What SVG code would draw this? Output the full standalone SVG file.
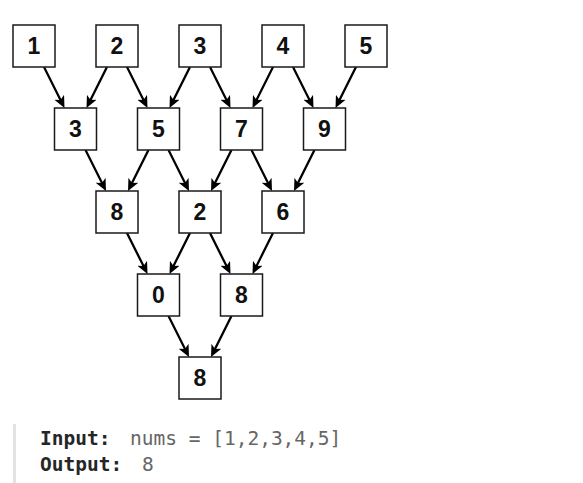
<svg xmlns="http://www.w3.org/2000/svg" width="583" height="483" viewBox="0 0 583 483">
<style>
.box rect{fill:#fff;stroke:#1a1a1a;stroke-width:1.5}
.box text{font-family:"Liberation Sans",Arial,sans-serif;font-weight:bold;font-size:23px;fill:#111;text-anchor:middle}
.edges path{fill:none;stroke:#000;stroke-width:2.3;marker-end:url(#ah)}
.code{font-family:"DejaVu Sans Mono",monospace;font-size:19.5px}
.kw{font-weight:bold;fill:#262626}
.val{fill:#666}
</style>
<defs>
<marker id="ah" markerUnits="userSpaceOnUse" viewBox="0 0 12 11" markerWidth="12" markerHeight="11" refX="7" refY="5.5" orient="auto">
<path d="M0,0 L12,5.5 L0,11 L3,5.5 Z" fill="#000"/>
</marker>
</defs>
<rect width="583" height="483" fill="#fff"/>
<g class="edges">
<path d="M44 67 L62.26 103.53"/><path d="M107 67 L88.74 103.53"/>
<path d="M127 67 L145.26 103.53"/><path d="M190 67 L171.74 103.53"/>
<path d="M210 67 L228.26 103.53"/><path d="M273 67 L254.74 103.53"/>
<path d="M293 67 L311.26 103.53"/><path d="M356 67 L337.74 103.53"/>
<path d="M85.5 150 L103.76 186.53"/><path d="M148.5 150 L130.24 186.53"/>
<path d="M168.5 150 L186.76 186.53"/><path d="M231.5 150 L213.24 186.53"/>
<path d="M251.5 150 L269.76 186.53"/><path d="M314.5 150 L296.24 186.53"/>
<path d="M127 233 L145.26 269.53"/><path d="M190 233 L171.74 269.53"/>
<path d="M210 233 L228.26 269.53"/><path d="M273 233 L254.74 269.53"/>
<path d="M168.5 316 L186.76 352.53"/><path d="M231.5 316 L213.24 352.53"/>
</g>
<g id="n1-1" class="box"><rect x="13" y="25" width="42" height="42"/><text x="34" y="54">1</text></g>
<g id="n1-2" class="box"><rect x="96" y="25" width="42" height="42"/><text x="117" y="54">2</text></g>
<g id="n1-3" class="box"><rect x="179" y="25" width="42" height="42"/><text x="200" y="54">3</text></g>
<g id="n1-4" class="box"><rect x="262" y="25" width="42" height="42"/><text x="283" y="54">4</text></g>
<g id="n1-5" class="box"><rect x="345" y="25" width="42" height="42"/><text x="366" y="54">5</text></g>
<g id="n2-1" class="box"><rect x="54.5" y="108" width="42" height="42"/><text x="75.5" y="137">3</text></g>
<g id="n2-2" class="box"><rect x="137.5" y="108" width="42" height="42"/><text x="158.5" y="137">5</text></g>
<g id="n2-3" class="box"><rect x="220.5" y="108" width="42" height="42"/><text x="241.5" y="137">7</text></g>
<g id="n2-4" class="box"><rect x="303.5" y="108" width="42" height="42"/><text x="324.5" y="137">9</text></g>
<g id="n3-1" class="box"><rect x="96" y="191" width="42" height="42"/><text x="117" y="220">8</text></g>
<g id="n3-2" class="box"><rect x="179" y="191" width="42" height="42"/><text x="200" y="220">2</text></g>
<g id="n3-3" class="box"><rect x="262" y="191" width="42" height="42"/><text x="283" y="220">6</text></g>
<g id="n4-1" class="box"><rect x="137.5" y="274" width="42" height="42"/><text x="158.5" y="303">0</text></g>
<g id="n4-2" class="box"><rect x="220.5" y="274" width="42" height="42"/><text x="241.5" y="303">8</text></g>
<g id="n5-1" class="box"><rect x="179" y="357" width="42" height="42"/><text x="200" y="386">8</text></g>
<rect x="13" y="424" width="3" height="59" fill="#e3e3e3"/>
<text class="code kw" x="40" y="445">Input:</text>
<text class="code val" x="130" y="445">nums = [1,2,3,4,5]</text>
<text class="code kw" x="40" y="471">Output:</text>
<text class="code val" x="142" y="471">8</text>
</svg>
